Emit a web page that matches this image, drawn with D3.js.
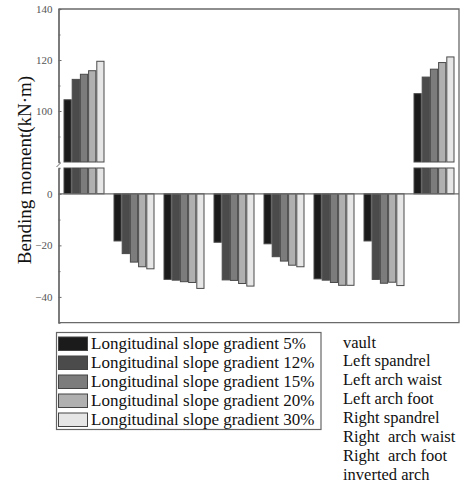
<!DOCTYPE html>
<html>
<head>
<meta charset="utf-8">
<script src="https://cdn.jsdelivr.net/npm/d3@7"></script>
<style>
  html, body { margin: 0; padding: 0; background: #fff; }
  svg { display: block; }
  text { font-family: "Liberation Serif", "Times New Roman", serif; }
</style>
</head>
<body>
<svg id="chart" width="460" height="483"></svg>
<script>
// Bending moment (kN·m) at each arch position for five longitudinal slope gradients
const positions = ["vault", "Left spandrel", "Left arch waist", "Left arch foot",
                   "Right spandrel", "Right  arch waist", "Right  arch foot", "inverted arch"];
const seriesNames = ["Longitudinal slope gradient 5%", "Longitudinal slope gradient 12%",
                     "Longitudinal slope gradient 15%", "Longitudinal slope gradient 20%",
                     "Longitudinal slope gradient 30%"];
const slope5  = [104.4, -18.3, -33.2, -18.8, -19.4, -33.0, -18.3, 106.8];
const slope12 = [112.4, -23.2, -33.5, -33.4, -24.4, -33.5, -33.2, 113.3];
const slope15 = [114.4, -26.5, -34.1, -33.6, -26.1, -34.4, -34.7, 116.4];
const slope20 = [115.8, -28.3, -34.4, -34.8, -27.7, -35.5, -34.3, 119.0];
const slope30 = [119.5, -29.1, -36.7, -35.8, -28.3, -35.5, -35.6, 121.2];
const seriesValues = [slope5, slope12, slope15, slope20, slope30];
const fills = ["#1b1b1b", "#4b4b4b", "#7c7c7c", "#b0b0b0", "#e6e6e6"];
const upperTicks = [140, 120, 100];
const upperMinor = [130, 110, 90];
const lowerTicks = [0, -20, -40];
const lowerMinor = [-10, -30];

const svg = d3.select("#chart");
const plotLeft = 58.5, plotRight = 459, plotTop = 9, plotBottom = 322.7;
const breakTop = 162, breakBottom = 168;

// Broken value axis: upper segment 80–140, lower segment -50–10
const yTop = d3.scaleLinear().domain([80, 140]).range([breakTop, plotTop]);
const yBot = d3.scaleLinear().domain([-50, 10]).range([plotBottom, breakBottom]);

const x = d3.scaleBand().domain(positions).range([plotLeft + 0.5, plotRight]).paddingInner(0.18).paddingOuter(0.09);
const xs = d3.scaleBand().domain(seriesNames).range([0, x.bandwidth()]);

// Bars
const bars = [];
seriesValues.forEach((vals, si) => {
  vals.forEach((v, ci) => bars.push({ s: seriesNames[si], si, c: positions[ci], v }));
});

const gBars = svg.append("g");
bars.forEach(d => {
  const bx = x(d.c) + xs(d.s);
  const bw = xs.bandwidth();
  const segs = [];
  if (d.v < 0) {
    segs.push([yBot(0), yBot(d.v)]);
  } else if (d.v <= 10) {
    segs.push([yBot(d.v), yBot(0)]);
  } else {
    segs.push([yBot(10), yBot(0)]);
    segs.push([yTop(d.v), yTop(80)]);
  }
  segs.forEach(([y0, y1]) => {
    gBars.append("rect")
      .attr("x", bx + 0.5).attr("y", Math.min(y0, y1))
      .attr("width", bw - 1).attr("height", Math.abs(y1 - y0))
      .attr("fill", fills[d.si]).attr("stroke", "#4a4a4a").attr("stroke-width", 1);
  });
});

// Zero line
svg.append("line").attr("x1", plotLeft).attr("x2", plotRight)
  .attr("y1", yBot(0)).attr("y2", yBot(0))
  .attr("stroke", "#6a6a6a").attr("stroke-width", 1.2);

// Frame (top, right, bottom) and broken left axis
const frameColor = "#6a6a6a";
svg.append("path")
  .attr("d", `M${plotLeft},${plotTop}H${plotRight}V${plotBottom}H${plotLeft}`)
  .attr("fill", "none").attr("stroke", frameColor).attr("stroke-width", 1.3);

svg.append("g").attr("transform", `translate(${plotLeft},0)`)
  .call(d3.axisLeft(yTop).tickValues(upperTicks).tickSizeInner(-3).tickSizeOuter(0).tickPadding(6));
svg.append("g").attr("transform", `translate(${plotLeft},0)`)
  .call(d3.axisLeft(yBot).tickValues(lowerTicks).tickSizeInner(-3).tickSizeOuter(0).tickPadding(6));
svg.append("g").attr("transform", `translate(${plotLeft},0)`)
  .call(d3.axisLeft(yTop).tickValues(upperMinor).tickSize(-2).tickFormat(""));
svg.append("g").attr("transform", `translate(${plotLeft},0)`)
  .call(d3.axisLeft(yBot).tickValues(lowerMinor).tickSize(-2).tickFormat(""));

svg.selectAll(".domain").attr("stroke", frameColor).attr("stroke-width", 1.3);
svg.selectAll(".tick line").attr("stroke", frameColor);
svg.selectAll(".tick text")
  .attr("fill", "#555").style("font-size", "11px")
  .style("font-family", "'Liberation Serif', serif");

// Break mark on the left axis
svg.append("line")
  .attr("x1", plotLeft - 2).attr("y1", breakBottom - 1)
  .attr("x2", plotLeft + 2).attr("y2", breakTop + 1)
  .attr("stroke", frameColor).attr("stroke-width", 1);

// Y axis title
svg.append("text")
  .attr("transform", `translate(31,170) rotate(-90)`)
  .attr("text-anchor", "middle")
  .style("font-size", "19px")
  .attr("fill", "#111")
  .text("Bending moment(kN·m)");

// Legend for slope gradients
const lg = svg.append("g");
lg.append("rect").attr("x", 56.5).attr("y", 332.5).attr("width", 264.5).attr("height", 97)
  .attr("fill", "#fff").attr("stroke", "#666").attr("stroke-width", 1.2);
seriesNames.forEach((name, i) => {
  const cy = 343.5 + i * 19;
  lg.append("rect").attr("x", 58.5).attr("y", cy - 6.5).attr("width", 29).attr("height", 13.5)
    .attr("fill", fills[i]).attr("stroke", "#444").attr("stroke-width", 1);
  lg.append("text").attr("x", 91).attr("y", cy + 5.5)
    .style("font-size", "17px").attr("fill", "#111").text(name);
});

// Position names
positions.forEach((p, i) => {
  svg.append("text").attr("x", 343).attr("y", 347.5 + i * 18.9)
    .style("font-size", "16.5px").style("white-space", "pre").attr("fill", "#111").text(p);
});
</script>
</body>
</html>
